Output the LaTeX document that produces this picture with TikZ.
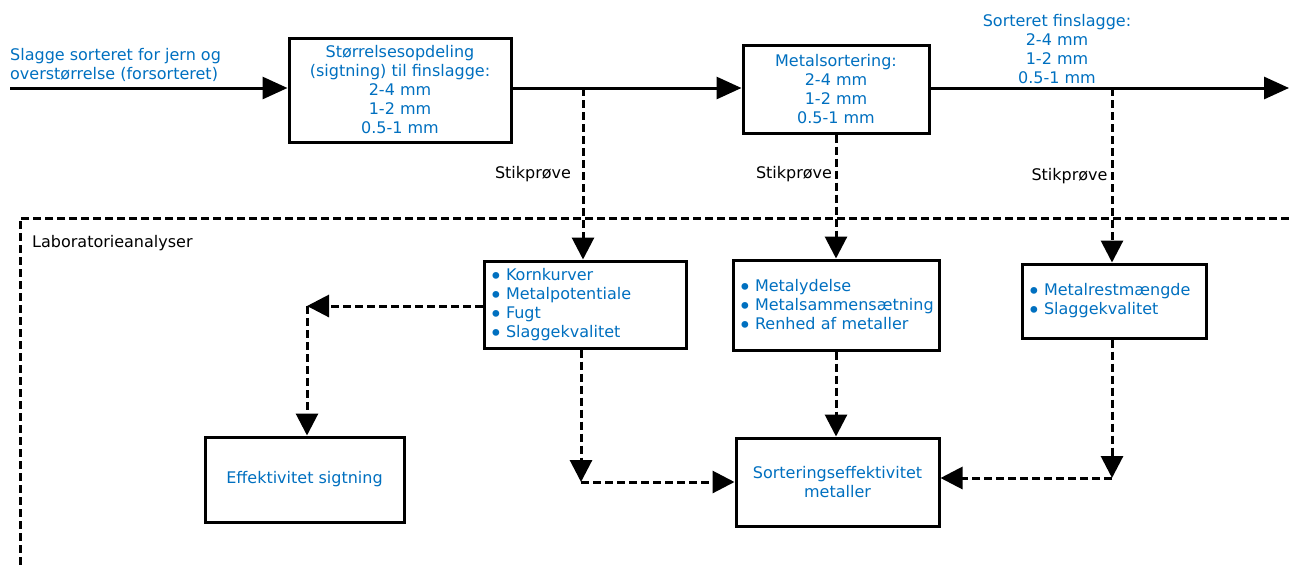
\documentclass[tikz,border=0pt]{standalone}
\usepackage{fontspec}
\setmainfont{DejaVu Sans}
\usetikzlibrary{arrows.meta}
\definecolor{txtblue}{RGB}{0,112,192}
\newcommand\bul{\makebox[17pt][l]{\smash{\raisebox{-3.6pt}{\scalebox{1.45}{\textbullet}}}}}
\begin{document}
\begin{tikzpicture}[x=1pt,y=-1pt,
  font=\fontsize{16}{19}\selectfont,
  every node/.style={inner sep=0pt},
  box/.style={draw, line width=3pt, fill=white, text=txtblue, align=center},
  listbox/.style={box, align=left, inner xsep=5pt},
  flow/.style={line width=3pt, -{Triangle[length=25pt,width=22pt]}},
  sample/.style={line width=3pt, dash pattern=on 8pt off 4pt},
  samplearrow/.style={sample, -{Triangle[length=22pt,width=22pt]}},
  note/.style={text=black},
  blue/.style={text=txtblue}]
\useasboundingbox (0,0) rectangle (1289,568);

% laboratory frame
\draw[sample] (1289,218) -- (20,218) -- (20,568);
\node[note, anchor=west] (lab) at (32,243) {Laboratorieanalyser};

% main process boxes
\node[box, minimum width=222pt, minimum height=104pt] (sieve) at (400,90)
  {Størrelsesopdeling\\(sigtning) til finslagge:\\2-4 mm\\1-2 mm\\0.5-1 mm};
\node[box, minimum width=186pt, minimum height=88pt] (sort) at (836,89)
  {Metalsortering:\\2-4 mm\\1-2 mm\\0.5-1 mm};

% input and output
\coordinate (in) at (10,88);
\coordinate (out) at (1289,88);
\node[blue, align=left, anchor=west] (inlbl) at (10,64.5)
  {Slagge sorteret for jern og\\overstørrelse (forsorteret)};
\node[blue, align=center] (outlbl) at (1057,49.5)
  {Sorteret finslagge:\\2-4 mm\\1-2 mm\\0.5-1 mm};

\draw[flow] (in) -- (in -| sieve.west);
\draw[flow] (in -| sieve.east) -- (in -| sort.west);
\draw[flow] (in -| sort.east) -- (out);

% sampling junctions
\coordinate (j1) at (583,88);
\coordinate (j2) at (1112,88);

% laboratory boxes
\node[listbox, text width=192pt, minimum height=87pt] (lab1) at (585,304.5)
  {\bul Kornkurver\\\bul Metalpotentiale\\\bul Fugt\\\bul Slaggekvalitet};
\node[listbox, text width=196pt, minimum height=90pt] (lab2) at (836,305)
  {\bul Metalydelse\\\bul Metalsammensætning\\\bul Renhed af metaller};
\node[listbox, text width=174pt, minimum height=74pt] (lab3) at (1114,301)
  {\bul Metalrestmængde\\\bul Slaggekvalitet};

\node[box, minimum width=199pt, minimum height=85pt] (effsieve) at (304.5,479.5)
  {Effektivitet sigtning};
\node[box, minimum width=203pt, minimum height=88pt] (effsort) at (837.5,482)
  {Sorteringseffektivitet\\metaller};

% sample labels
\node[note] (s1) at (533,174) {Stikprøve};
\node[note] (s2) at (794,174) {Stikprøve};
\node[note] (s3) at (1069.5,176) {Stikprøve};

% sampling lines
\draw[samplearrow] (j1) -- (j1 |- lab1.north);
\draw[samplearrow] (sort.south) -- (sort.south |- lab2.north);
\draw[samplearrow] (j2) -- (j2 |- lab3.north);

% evaluation lines
\coordinate (l1) at (307,306);
\coordinate (d1) at (581,482);
\coordinate (d2) at (1112,478);
\draw[samplearrow] (lab1.west |- l1) -- (l1);
\draw[samplearrow] (l1) -- (l1 |- effsieve.north);
\draw[samplearrow] (d1 |- lab1.south) -- (d1);
\draw[samplearrow] (d1) -- (d1 -| effsort.west);
\draw[samplearrow] (lab2.south) -- (lab2.south |- effsort.north);
\draw[samplearrow] (d2 |- lab3.south) -- (d2);
\draw[samplearrow] (d2) -- (d2 -| effsort.east);
\end{tikzpicture}
\end{document}
